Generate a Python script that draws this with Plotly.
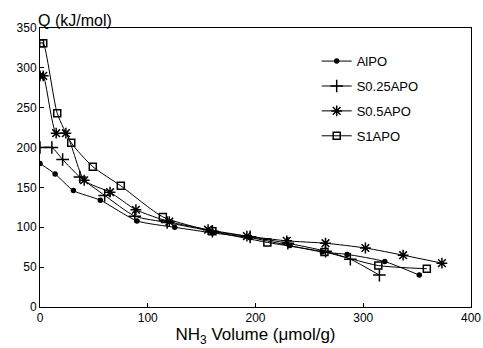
import plotly.graph_objects as go

# AlPO
alpo_x = [0, 14, 31, 56, 90, 125, 160, 195, 232, 262, 285, 320, 352]
alpo_y = [180, 167, 146, 134, 108, 100, 93, 87, 77, 69, 66, 57, 40]
# S0.25APO
s025_x = [0, 11, 21, 37, 60, 88, 118, 160, 195, 230, 265, 288, 315]
s025_y = [200, 200, 185, 163, 140, 114, 106, 95, 88, 80, 70, 60, 40]
# S0.5APO
s05_x = [0, 3, 15, 24, 41, 65, 89, 120, 156, 192, 229, 265, 302, 337, 373]
s05_y = [290, 290, 218, 218, 159, 144, 122, 107, 97, 89, 83, 80, 74, 65, 55]
# S1APO
s1_x = [0, 3, 16, 29, 49, 75, 114, 160, 211, 264, 314, 359]
s1_y = [331, 331, 243, 206, 176, 152, 113, 95, 81, 69, 52, 48]

names = ["AlPO", "S0.25APO", "S0.5APO", "S1APO"]
xs = [alpo_x, s025_x, s05_x, s1_x]
ys = [alpo_y, s025_y, s05_y, s1_y]
symbols = ["circle", "cross-thin-open", "asterisk-open", "square-open"]
sizes = [4, 9, 9, 7]

font = "Liberation Sans, Arial, sans-serif"

fig = go.Figure()
for n, x, y, s, sz in zip(names, xs, ys, symbols, sizes):
    fig.add_trace(go.Scatter(
        x=x, y=y, name=n, mode="lines+markers", legendgroup=n,
        line=dict(color="black", width=1, shape="spline", smoothing=0.6),
        marker=dict(symbol=s, size=sz, color="black",
                    line=dict(color="black", width=1.5)),
    ))

fig.update_layout(
    width=483, height=348,
    margin=dict(l=40, r=12, t=28, b=41),
    paper_bgcolor="white", plot_bgcolor="white",
    font=dict(family=font, size=12, color="black"),
    showlegend=True,
    legend=dict(x=0.642, y=0.935, xanchor="left", yanchor="top",
                bgcolor="rgba(0,0,0,0)", tracegroupgap=5,
                itemwidth=30, font=dict(size=13)),
    xaxis=dict(range=[0, 400], tickvals=[0, 100, 200, 300, 400],
               showline=True, linecolor="black", linewidth=1, mirror=True,
               ticks="inside", ticklen=4, tickcolor="black",
               showgrid=False, zeroline=False, automargin=False,
               title=dict(text="NH<sub>3</sub> Volume (μmol/g)", font=dict(size=17), standoff=2)),
    yaxis=dict(range=[0, 350], tickvals=[0, 50, 100, 150, 200, 250, 300, 350],
               showline=True, linecolor="black", linewidth=1, mirror=True,
               ticks="inside", ticklen=4, tickcolor="black",
               showgrid=False, zeroline=False, automargin=False),
    annotations=[dict(text="Q (kJ/mol)", xref="paper", yref="paper",
                      x=0, y=1.0, xanchor="left", yanchor="bottom",
                      showarrow=False, font=dict(size=16), xshift=-4, yshift=-3)],
)

fig.write_html("out.html", config={"displayModeBar": False},
               post_script="document.body.style.margin='0';")
